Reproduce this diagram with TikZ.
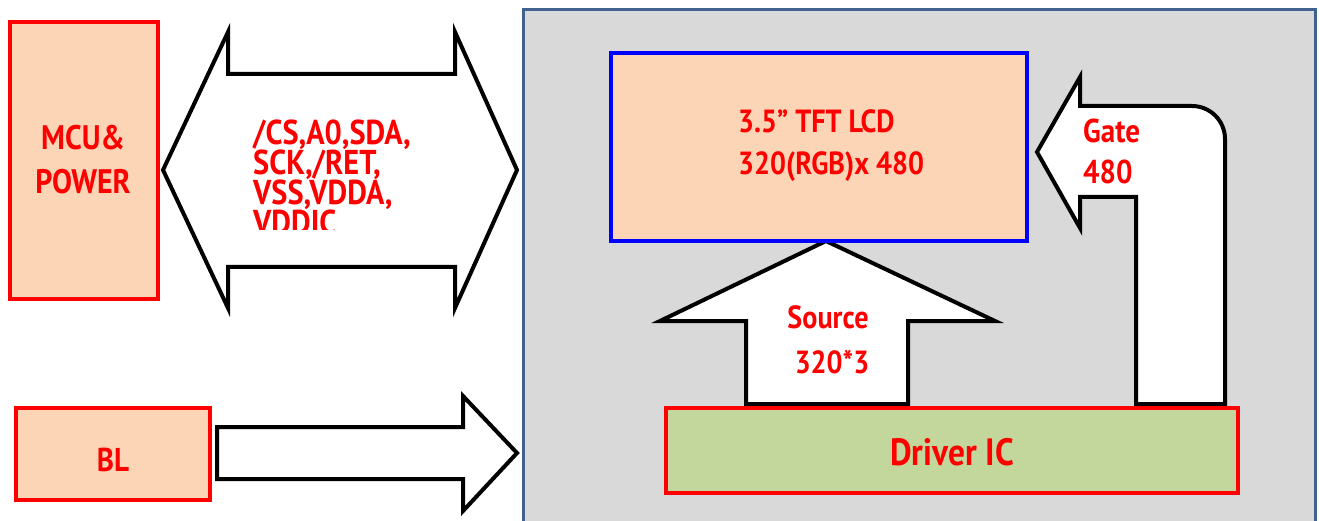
\documentclass[tikz,border=0pt]{standalone}
\usepackage{fontspec}
\setmainfont{PT Sans}[FakeStretch=0.88]
\definecolor{peach}{HTML}{FBD5B5}
\definecolor{drvgreen}{HTML}{C3D69B}
\definecolor{panelgray}{HTML}{D9D9D9}
\definecolor{panelblue}{HTML}{41628F}
\tikzset{
  redbox/.style={draw=red, line width=4pt, fill=peach, inner sep=0pt},
  lbl/.style={text=red, font=\bfseries\fontsize{33}{34}\selectfont, inner sep=0pt},
  blk/.style={draw=black, line width=4pt, fill=white, line join=miter},
}
\begin{document}
\begin{tikzpicture}[x=1pt,y=-1pt]
\clip (0,0) rectangle (1319,521);
\useasboundingbox (0,0) rectangle (1319,521);
% panel
\draw[draw=panelblue, line width=3pt, fill=panelgray] (523,10) rectangle (1315,540);
% arrows
\draw[blk] (163,170) -- (228,32) -- (228,74) -- (455,74) -- (455,32) -- (517,170)
  -- (455,308) -- (455,267) -- (228,267) -- (228,308) -- cycle;
\draw[blk] (217,427) -- (463,427) -- (463,396) -- (517,453) -- (463,511) -- (463,479) -- (217,479) -- cycle;
\draw[blk] (746,404) -- (746,321) -- (660,321) -- (826,241) -- (995,321) -- (908,321) -- (908,404) -- cycle;
\draw[blk] (1136,404) -- (1136,197) -- (1080,197) -- (1080,228) -- (1037,152) -- (1080,77)
  -- (1080,106) -- (1192,106) arc[start angle=-90, end angle=0, radius=33] -- (1225,404) -- cycle;
% boxes
\node[redbox, minimum width=148pt, minimum height=277pt] (mcu) at (84,160.5) {};
\node[lbl, align=center, font=\bfseries\fontsize{34}{44}\selectfont] (mcutxt) at (83,160) {MCU\&\\POWER};
\node[redbox, minimum width=194pt, minimum height=92pt] (bl) at (113,454) {};
\node[lbl] (bltxt) at (113,460) {BL};
\node[draw=blue, line width=4pt, fill=peach, minimum width=416pt, minimum height=188pt] (lcd) at (819,147) {};
\node[lbl, anchor=west, align=left, font=\bfseries\fontsize{32}{42}\selectfont] (lcdtxt) at (738,146) {3.5” TFT LCD\\320(RGB)x 480};
\node[draw=red, line width=4pt, fill=drvgreen, minimum width=572pt, minimum height=85pt] (drv) at (952,450.5) {};
\node[lbl, font=\bfseries\fontsize{38}{40}\selectfont] (drvtxt) at (952,452) {Driver IC};
\node[lbl, align=center, font=\bfseries\fontsize{32}{45}\selectfont] (srctxt) at (828,340) {Source\\\hspace*{8pt}320*3};
\node[lbl, anchor=west, align=left, font=\bfseries\fontsize{33}{41}\selectfont] (gatetxt) at (1083,151.5) {Gate\\480};
\begin{scope}
\clip (230,0) rectangle (520,230);
\node[lbl, anchor=west, align=left, font=\bfseries\fontsize{34.5}{30}\selectfont] (sig) at (253,177.5) {/CS,A0,SDA,\\SCK,/RET,\\VSS,VDDA,\\VDDIC};
\end{scope}
\end{tikzpicture}
\end{document}
